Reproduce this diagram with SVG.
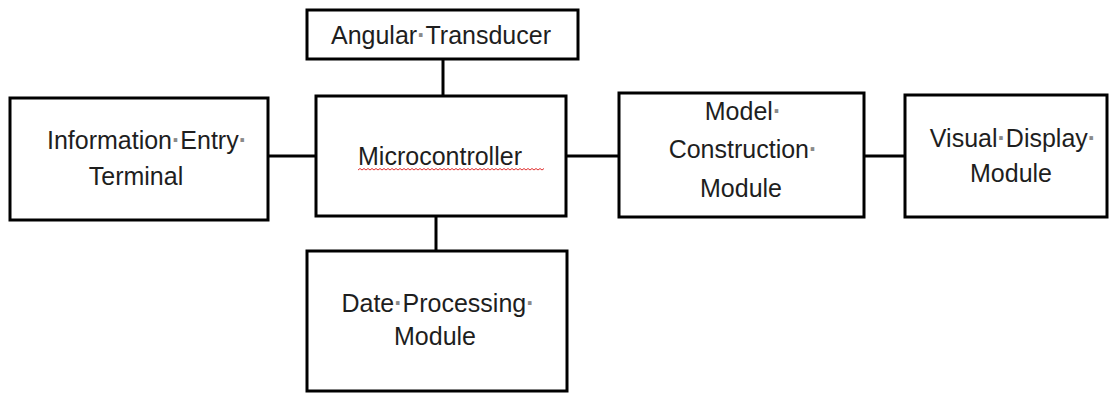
<svg xmlns="http://www.w3.org/2000/svg" width="1110" height="393" viewBox="0 0 1110 393">
<style>
.box{fill:#fff;stroke:#000;stroke-width:3}
.con{stroke:#000;stroke-width:3;fill:none}
.t{font-family:"Liberation Sans",Arial,sans-serif;font-size:25px;fill:#1e1e1e;text-anchor:middle}
.d{fill:#8a8a8a;font-weight:bold}
</style>
<rect width="1110" height="393" fill="#fff"/>
<g id="connectors">
<line class="con" x1="443" y1="59" x2="443" y2="96"/>
<line class="con" x1="268" y1="156" x2="316" y2="156"/>
<line class="con" x1="566" y1="156" x2="619" y2="156"/>
<line class="con" x1="864" y1="156" x2="905" y2="156"/>
<line class="con" x1="436" y1="216" x2="436" y2="251"/>
</g>
<g id="angular-transducer">
<rect class="box" x="307" y="10" width="271" height="49"/>
<text class="t" x="441" y="44">Angular<tspan class="d">·</tspan>Transducer</text>
</g>
<g id="information-entry-terminal">
<rect class="box" x="10" y="98" width="258" height="122"/>
<text class="t" x="147" y="149">Information<tspan class="d">·</tspan>Entry<tspan class="d">·</tspan></text>
<text class="t" x="136" y="185">Terminal</text>
</g>
<g id="microcontroller">
<rect class="box" x="316" y="96" width="250" height="120"/>
<text class="t" x="440" y="165">Microcontroller</text>
<path d="M358 170 l2 -1.5 l2 1.5 l2 -1.5 l2 1.5 l2 -1.5 l2 1.5 l2 -1.5 l2 1.5 l2 -1.5 l2 1.5 l2 -1.5 l2 1.5 l2 -1.5 l2 1.5 l2 -1.5 l2 1.5 l2 -1.5 l2 1.5 l2 -1.5 l2 1.5 l2 -1.5 l2 1.5 l2 -1.5 l2 1.5 l2 -1.5 l2 1.5 l2 -1.5 l2 1.5 l2 -1.5 l2 1.5 l2 -1.5 l2 1.5 l2 -1.5 l2 1.5 l2 -1.5 l2 1.5 l2 -1.5 l2 1.5 l2 -1.5 l2 1.5 l2 -1.5 l2 1.5 l2 -1.5 l2 1.5 l2 -1.5 l2 1.5 l2 -1.5 l2 1.5 l2 -1.5 l2 1.5 l2 -1.5 l2 1.5 l2 -1.5 l2 1.5 l2 -1.5 l2 1.5 l2 -1.5 l2 1.5 l2 -1.5 l2 1.5 l2 -1.5 l2 1.5 l2 -1.5 l2 1.5 l2 -1.5 l2 1.5 l2 -1.5 l2 1.5 l2 -1.5 l2 1.5 l2 -1.5 l2 1.5 l2 -1.5 l2 1.5 l2 -1.5 l2 1.5 l2 -1.5 l2 1.5 l2 -1.5 l2 1.5 l2 -1.5 l2 1.5 l2 -1.5 l2 1.5 l2 -1.5 l2 1.5 l2 -1.5 l2 1.5 l2 -1.5 l2 1.5 l2 -1.5 l2 1.5 l2 -1.5" fill="none" stroke="#e03030" stroke-width="1"/>
</g>
<g id="model-construction-module">
<rect class="box" x="619" y="93" width="245" height="124"/>
<text class="t" x="743" y="120">Model<tspan class="d">·</tspan></text>
<text class="t" x="743" y="158">Construction<tspan class="d">·</tspan></text>
<text class="t" x="741" y="197">Module</text>
</g>
<g id="visual-display-module">
<rect class="box" x="905" y="95" width="202" height="122"/>
<text class="t" x="1013" y="147">Visual<tspan class="d">·</tspan>Display<tspan class="d">·</tspan></text>
<text class="t" x="1011" y="182">Module</text>
</g>
<g id="date-processing-module">
<rect class="box" x="307" y="251" width="260" height="140"/>
<text class="t" x="438" y="312">Date<tspan class="d">·</tspan>Processing<tspan class="d">·</tspan></text>
<text class="t" x="435" y="345">Module</text>
</g>
</svg>
